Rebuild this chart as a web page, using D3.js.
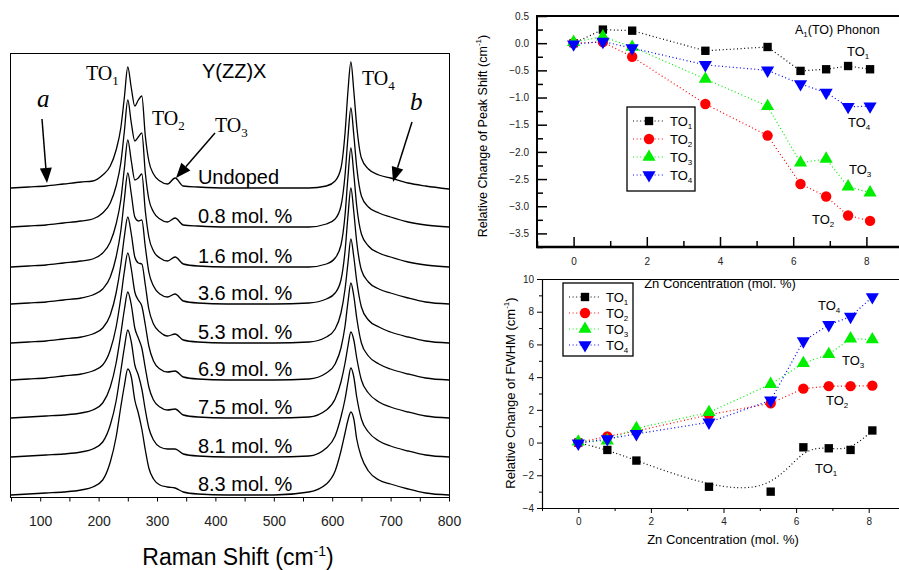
<!doctype html>
<html>
<head>
<meta charset="utf-8">
<title>Raman spectra and peak analysis</title>
<script src="https://d3js.org/d3.v7.min.js"></script>
<style>
  body { margin: 0; background: #fff; }
  svg { display: block; font-family: "Liberation Sans", Arial, sans-serif; }
  .serif { font-family: "Liberation Serif", "Times New Roman", serif; }
  .tick text { fill: #222; }
</style>
</head>
<body>
<svg width="899" height="570"></svg>
<script>
// ---- left panel: Raman spectra ----
var wavenumber = [50, 80, 110, 140, 170, 190, 207, 220, 230, 238, 244, 250, 256, 262, 268, 274, 280, 286, 294, 305, 318, 331, 345, 370, 420,
                  500, 560, 590, 605, 615, 622, 627, 632, 637, 642, 650, 662, 680, 700, 730, 760, 800];
var spectraLabels = ["Undoped", "0.8 mol. %", "1.6 mol. %", "3.6 mol. %", "5.3 mol. %", "6.9 mol. %", "7.5 mol. %", "8.1 mol. %", "8.3 mol. %"];
var spectraOffsets = [309, 270, 230, 193, 154, 117, 79, 40, 2];
var spectra = [
  [0,1,2,4,6,7,13,22,38,60,90,121,100,82,88,92,52,27,14,7,4,10,2,1,0,  0,0,2,7,20,55,97,126,97,62,30,19,13,10,5,2,-1],
  [0,1,2,4,6,8,14,24,41,64,95,127,104,86,90,94,54,28,15,8,5,9,2,1,0,   0,0,3,8,21,52,90,119,92,60,31,20,14,10,5,2,0],
  [0,1,2,4,6,8,14,25,43,67,98,127,106,87,89,93,56,30,16,9,6,10,3,1,0,  0,0,3,9,22,52,90,119,93,61,33,21,14,10,5,2,0],
  [0,1,2,4,6,9,15,27,47,73,104,131,110,87,83,84,57,32,18,10,7,10,3,1,0, 0,1,5,11,24,53,88,116,92,62,34,22,15,11,6,2,0],
  [0,1,2,4,6,9,15,28,50,78,106,126,109,86,80,79,58,34,19,11,7,9,3,1,0, 0,1,6,14,30,54,80,104,86,62,36,23,16,11,6,2,0],
  [0,1,2,4,6,9,15,30,53,82,108,127,111,88,80,74,55,34,19,11,8,9,3,1,0, 0,1,7,16,32,54,78,97,84,62,37,24,16,11,6,2,0],
  [0,1,2,3,5,8,15,31,55,84,108,126,113,90,80,70,50,31,18,11,8,9,3,1,0, 0,1,8,19,36,55,72,86,78,60,38,25,16,11,6,2,0],
  [0,1,2,3,5,8,15,32,56,86,109,127,115,92,82,68,47,29,17,10,8,8,3,1,0, 0,1,9,21,40,58,75,89,80,60,38,25,16,11,6,2,0],
  [0,1,2,3,5,8,15,33,58,88,109,126,118,95,82,66,45,27,16,10,8,7,3,1,0, 0,3,11,24,44,62,75,83,76,56,38,24,15,11,6,2,0]
];

// ---- right panels: Zn concentration ----
var zn = [0, 0.8, 1.6, 3.6, 5.3, 6.2, 6.9, 7.5, 8.1];
var modes = ["1", "2", "3", "4"];
var colors = ["#000000", "#ff0000", "#00ee00", "#0000ff"];
var shiftTO1 = [0, 0.25, 0.23, -0.14, -0.07, -0.51, -0.48, -0.42, -0.48];
var shiftTO2 = [0, 0.02, -0.25, -1.12, -1.70, -2.59, -2.82, -3.17, -3.27];
var shiftTO3 = [0.02, 0.12, -0.07, -0.66, -1.16, -2.20, -2.13, -2.64, -2.75];
var shiftTO4 = [-0.02, 0.03, -0.09, -0.40, -0.50, -0.75, -0.91, -1.17, -1.16];
var fwhmTO1 = [0, -0.45, -1.1, -2.7, -3.0, -0.29, -0.35, -0.45, 0.74];
var fwhmTO2 = [0, 0.38, 0.7, 1.7, 2.4, 3.3, 3.45, 3.45, 3.48];
var fwhmTO3 = [0.05, 0.12, 0.87, 1.85, 3.57, 4.85, 5.4, 6.35, 6.3];
var fwhmTO4 = [-0.05, 0.22, 0.53, 1.24, 2.58, 6.2, 7.2, 7.7, 8.9];

var svg = d3.select("svg");
svg.append("rect").attr("width", 899).attr("height", 570).attr("fill", "#fff");

function toLabel(sel, sub, subSize) {
  sel.append("tspan").text("TO");
  sel.append("tspan").attr("font-size", subSize).attr("dy", subSize * 0.35).text(sub);
}

function arrow(x1, y1, x2, y2) {
  var dx = x2 - x1, dy = y2 - y1, len = Math.sqrt(dx * dx + dy * dy);
  var ux = dx / len, uy = dy / len, hl = 15, hw = 6;
  var bx = x2 - ux * hl, by = y2 - uy * hl;
  svg.append("line").attr("x1", x1).attr("y1", y1).attr("x2", bx).attr("y2", by)
    .attr("stroke", "#000").attr("stroke-width", 1.5);
  svg.append("path").attr("fill", "#000")
    .attr("d", "M" + x2 + "," + y2 + "L" + (bx - uy * hw) + "," + (by + ux * hw) + "L" + (bx + uy * hw) + "," + (by - ux * hw) + "Z");
}

// left panel
var x = d3.scaleLinear().domain([50, 800]).range([11, 449]);
var y = d3.scaleLinear().domain([0, 444]).range([497, 53]);

var spec = svg.append("g");
var specLine = d3.line().curve(d3.curveMonotoneX);
spectra.forEach(function(s, i) {
  spec.append("path")
    .attr("d", specLine(s.map(function(v, j) { return [x(wavenumber[j]), y(v + spectraOffsets[i])]; })))
    .attr("fill", "none").attr("stroke", "#000").attr("stroke-width", 1.3);
  spec.append("text").attr("x", x(370)).attr("y", y(spectraOffsets[i]) - 4)
    .attr("font-size", 20).text(spectraLabels[i]);
});

svg.append("rect").attr("x", 10.5).attr("y", 53.5).attr("width", 439).attr("height", 444)
  .attr("fill", "none").attr("stroke", "#000").attr("stroke-width", 1);

var xAxisL = svg.append("g").attr("transform", "translate(0,497.5)")
  .call(d3.axisBottom(x).tickValues(d3.range(50, 801, 50)).tickSize(4).tickPadding(15)
    .tickFormat(function(d) { return d % 100 === 0 ? d : ""; }));
xAxisL.select(".domain").remove();
xAxisL.selectAll("text").attr("font-size", 14).attr("font-family", "Liberation Sans, Arial, sans-serif");

var xt = svg.append("text").attr("x", 238).attr("y", 565).attr("text-anchor", "middle").attr("font-size", 23);
xt.append("tspan").text("Raman Shift (cm");
xt.append("tspan").attr("font-size", 14).attr("dy", -9).text("-1");
xt.append("tspan").attr("dy", 9).text(")");

svg.append("text").attr("x", 202).attr("y", 78).attr("font-size", 20).text("Y(ZZ)X");
[[86, 80, "1"], [152, 125, "2"], [215, 132, "3"], [362, 85, "4"]].forEach(function(p) {
  toLabel(svg.append("text").attr("class", "serif").attr("x", p[0]).attr("y", p[1]).attr("font-size", 20), p[2], 13);
});
svg.append("text").attr("class", "serif").attr("x", 37).attr("y", 107).attr("font-size", 25).attr("font-style", "italic").text("a");
svg.append("text").attr("class", "serif").attr("x", 410).attr("y", 110).attr("font-size", 25).attr("font-style", "italic").text("b");
arrow(42, 119, 47, 183);
arrow(412, 122, 393, 182);
arrow(215, 133, 176, 178);

// right panels
var shifts = [shiftTO1, shiftTO2, shiftTO3, shiftTO4];
var fwhms = [fwhmTO1, fwhmTO2, fwhmTO3, fwhmTO4];
var symbols = [d3.symbolSquare, d3.symbolCircle, d3.symbolTriangle, d3.symbolTriangle];
var symSize = [70, 85, 75, 75];

function marker(g, k, cx, cy) {
  g.append("path").attr("d", d3.symbol().type(symbols[k]).size(symSize[k])())
    .attr("transform", "translate(" + cx + "," + cy + ")" + (k === 3 ? " rotate(180)" : ""))
    .attr("fill", colors[k]);
}

function drawSeries(g, xs, ys, data, curves) {
  data.forEach(function(s, k) {
    var ln = d3.line().curve(curves[k]).x(function(d, j) { return xs(zn[j]); }).y(function(d) { return ys(d); });
    g.append("path").attr("d", ln(s)).attr("fill", "none").attr("stroke", colors[k])
      .attr("stroke-width", 1.2).attr("stroke-dasharray", "1,2.6");
    s.forEach(function(v, j) { marker(g, k, xs(zn[j]), ys(v)); });
  });
}

function legend(g, x0, y0, w, h, rows) {
  g.append("rect").attr("x", x0).attr("y", y0).attr("width", w).attr("height", h)
    .attr("fill", "#fff").attr("stroke", "#000").attr("stroke-width", 1.3);
  rows.forEach(function(ry, k) {
    g.append("line").attr("x1", x0 + 6).attr("x2", x0 + 38).attr("y1", ry).attr("y2", ry)
      .attr("stroke", colors[k]).attr("stroke-width", 1.2).attr("stroke-dasharray", "1,2.6");
    marker(g, k, x0 + 22, ry);
    toLabel(g.append("text").attr("x", x0 + 43).attr("y", ry + 5).attr("font-size", 13), modes[k], 8);
  });
}

// top right: peak shift
var xs1 = d3.scaleLinear().domain([-1, 9]).range([537, 903]);
var ys1 = d3.scaleLinear().domain([-3.75, 0.5]).range([247, 16]);
var topG = svg.append("g");

topG.append("g").attr("transform", "translate(537,0)")
  .call(d3.axisLeft(ys1).tickValues(d3.range(-3.5, 0.51, 0.5)).tickSize(-10).tickPadding(8).tickFormat(d3.format(".1f")));
topG.append("g").attr("transform", "translate(537,0)")
  .call(d3.axisLeft(ys1).tickValues(d3.range(-3.75, 0.5, 0.5)).tickSize(-6).tickFormat(""));
topG.append("g").attr("transform", "translate(0,247)")
  .call(d3.axisBottom(xs1).tickValues([0, 2, 4, 6, 8]).tickSize(-10).tickPadding(11));
topG.append("g").attr("transform", "translate(0,247)")
  .call(d3.axisBottom(xs1).tickValues([-1, 1, 3, 5, 7, 9]).tickSize(-6).tickFormat(""));
topG.selectAll(".domain").remove();
topG.selectAll(".tick line").attr("stroke-width", 1.5);
topG.selectAll(".tick text").attr("font-size", 10).attr("font-family", "Liberation Sans, Arial, sans-serif");
topG.append("path").attr("d", "M537,247V16H903").attr("fill", "none").attr("stroke", "#000").attr("stroke-width", 2);
topG.append("line").attr("x1", 536).attr("x2", 903).attr("y1", 247).attr("y2", 247).attr("stroke", "#000").attr("stroke-width", 2.5);

drawSeries(topG, xs1, ys1, shifts, [d3.curveLinear, d3.curveLinear, d3.curveLinear, d3.curveLinear]);
legend(topG, 627, 107, 68, 84, [121, 139, 157, 175]);

var t1 = topG.append("text").attr("x", 795).attr("y", 34).attr("font-size", 12.5);
t1.append("tspan").text("A");
t1.append("tspan").attr("font-size", 8).attr("dy", 3).text("1");
t1.append("tspan").attr("dy", -3).text("(TO) Phonon");
[[847, 56, "1"], [848, 127, "4"], [849, 174, "3"], [812, 224, "2"]].forEach(function(p) {
  toLabel(topG.append("text").attr("x", p[0]).attr("y", p[1]).attr("font-size", 13), p[2], 8);
});

topG.append("text").attr("x", 483).attr("y", 136).attr("transform", "rotate(-90,483,136)")
  .attr("text-anchor", "middle").attr("dy", "0.35em").attr("font-size", 12.5)
  .call(function(t) {
    t.append("tspan").text("Relative Change of Peak Shift (cm");
    t.append("tspan").attr("font-size", 8).attr("dy", -6).text("-1");
    t.append("tspan").attr("dy", 6).text(")");
  });

// bottom right: FWHM
var xs2 = d3.scaleLinear().domain([-1, 9]).range([542, 905]);
var ys2 = d3.scaleLinear().domain([-4, 10]).range([508, 279]);
var botG = svg.append("g");

botG.append("g").attr("transform", "translate(542,0)")
  .call(d3.axisLeft(ys2).tickValues(d3.range(-4, 10.1, 2)).tickSize(5).tickPadding(3));
botG.append("g").attr("transform", "translate(542,0)")
  .call(d3.axisLeft(ys2).tickValues(d3.range(-3, 10, 2)).tickSize(3).tickFormat(""));
botG.append("g").attr("transform", "translate(0,508)")
  .call(d3.axisBottom(xs2).tickValues([0, 2, 4, 6, 8]).tickSize(5).tickPadding(5));
botG.append("g").attr("transform", "translate(0,508)")
  .call(d3.axisBottom(xs2).tickValues([-1, 1, 3, 5, 7, 9]).tickSize(3).tickFormat(""));
botG.selectAll(".domain").remove();
botG.selectAll(".tick text").attr("font-size", 10).attr("font-family", "Liberation Sans, Arial, sans-serif");
botG.append("path").attr("d", "M905,279.5H542.5V508.5H905").attr("fill", "none").attr("stroke", "#000").attr("stroke-width", 1.2);

drawSeries(botG, xs2, ys2, fwhms, [d3.curveBasis, d3.curveLinear, d3.curveLinear, d3.curveLinear]);
legend(botG, 563, 283, 70, 73, [297, 313, 329, 345]);

[[818, 310, "4"], [842, 365, "3"], [826, 405, "2"], [815, 473, "1"]].forEach(function(p) {
  toLabel(botG.append("text").attr("x", p[0]).attr("y", p[1]).attr("font-size", 13), p[2], 8);
});

botG.append("text").attr("x", 510).attr("y", 393).attr("transform", "rotate(-90,510,393)")
  .attr("text-anchor", "middle").attr("dy", "0.35em").attr("font-size", 13)
  .call(function(t) {
    t.append("tspan").text("Relative Change of FWHM (cm");
    t.append("tspan").attr("font-size", 8).attr("dy", -6).text("-1");
    t.append("tspan").attr("dy", 6).text(")");
  });

svg.append("text").attr("x", 720).attr("y", 288).attr("text-anchor", "middle").attr("font-size", 13).text("Zn Concentration (mol. %)");
svg.append("text").attr("x", 723).attr("y", 544).attr("text-anchor", "middle").attr("font-size", 13).text("Zn Concentration (mol. %)");
</script>
</body>
</html>
